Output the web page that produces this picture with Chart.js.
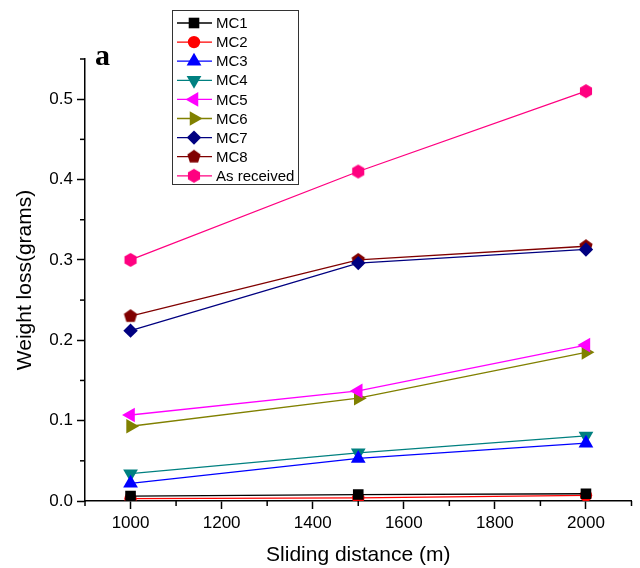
<!DOCTYPE html>
<html>
<head>
<meta charset="utf-8">
<script src="https://cdn.jsdelivr.net/npm/chart.js@4.4.1/dist/chart.umd.min.js"></script>
<style>
html,body{margin:0;padding:0;background:#fff;}
#wrap{width:640px;height:568px;position:relative;}
</style>
</head>
<body>
<div id="wrap"><canvas id="c" width="640" height="568"></canvas></div>
<script>
// ---- data ----
const distances = [1000, 1500, 2000];
const seriesNames = ["MC1","MC2","MC3","MC4","MC5","MC6","MC7","MC8","As received"];
const mc1 = [0.006, 0.008, 0.009];
const mc2 = [0.003, 0.004, 0.007];
const mc3 = [0.022, 0.053, 0.072];
const mc4 = [0.034, 0.060, 0.081];
const mc5 = [0.107, 0.137, 0.194];
const mc6 = [0.093, 0.128, 0.185];
const mc7 = [0.212, 0.296, 0.313];
const mc8 = [0.230, 0.300, 0.317];
const asReceived = [0.300, 0.410, 0.510];
const xTicks = [1000, 1200, 1400, 1600, 1800, 2000];
const xMinorTicks = [900, 1100, 1300, 1500, 1700, 1900, 2100];
const yTicks = [0.0, 0.1, 0.2, 0.3, 0.4, 0.5];
const yMinorTicks = [0.05, 0.15, 0.25, 0.35, 0.45, 0.55];

// ---- custom marker images (pentagon / hexagon) ----
function polyImage(sides, r, color, rot) {
  const s = Math.ceil(r * 2 + 2);
  const cv = document.createElement('canvas');
  cv.width = s; cv.height = s;
  const g = cv.getContext('2d');
  g.fillStyle = color;
  g.beginPath();
  for (let i = 0; i < sides; i++) {
    const a = rot + i * 2 * Math.PI / sides;
    const px = s / 2 + r * Math.cos(a), py = s / 2 + r * Math.sin(a);
    if (i === 0) g.moveTo(px, py); else g.lineTo(px, py);
  }
  g.closePath();
  g.fill();
  return cv;
}
const pentagon = polyImage(5, 7, '#800000', -Math.PI / 2);
const hexagon = polyImage(6, 7, '#FF0080', -Math.PI / 2);

const styles = [
  {color:'#000000', pointStyle:'rect', rotation:0, radius:7.5},
  {color:'#FF0000', pointStyle:'circle', rotation:0, radius:6.2},
  {color:'#0000FF', pointStyle:'triangle', rotation:0, radius:8.5},
  {color:'#008080', pointStyle:'triangle', rotation:180, radius:8.5},
  {color:'#FF00FF', pointStyle:'triangle', rotation:-90, radius:8.5},
  {color:'#808000', pointStyle:'triangle', rotation:90, radius:8.5},
  {color:'#000080', pointStyle:'rectRot', rotation:0, radius:7.2},
  {color:'#800000', pointStyle:pentagon, rotation:0, radius:7},
  {color:'#FF0080', pointStyle:hexagon, rotation:0, radius:7}
];
const allValues = [mc1, mc2, mc3, mc4, mc5, mc6, mc7, mc8, asReceived];

const datasets = allValues.map((vals, i) => ({
  label: seriesNames[i],
  data: distances.map((d, j) => ({x: d, y: vals[j]})),
  borderColor: styles[i].color,
  backgroundColor: styles[i].color,
  borderWidth: 1.3,
  pointStyle: styles[i].pointStyle,
  pointRotation: styles[i].rotation,
  pointRadius: styles[i].radius,
  pointHoverRadius: styles[i].radius,
  pointBorderWidth: 0,
  pointBackgroundColor: styles[i].color,
  pointBorderColor: styles[i].color,
  tension: 0,
  fill: false
}));

// ---- plugin: minor ticks, legend box, panel label ----
const extras = {
  id: 'extras',
  afterDraw(chart) {
    const ctx = chart.ctx;
    const xs = chart.scales.x, ys = chart.scales.y;
    const area = chart.chartArea;
    ctx.save();
    ctx.strokeStyle = '#000';
    ctx.lineWidth = 1.5;
    // minor ticks
    xMinorTicks.forEach(v => {
      const px = xs.getPixelForValue(v);
      ctx.beginPath(); ctx.moveTo(px, area.bottom); ctx.lineTo(px, area.bottom + 5); ctx.stroke();
    });
    yMinorTicks.forEach(v => {
      const py = ys.getPixelForValue(v);
      ctx.beginPath(); ctx.moveTo(area.left, py); ctx.lineTo(area.left - 5, py); ctx.stroke();
    });
    // legend
    const lx = 172, ly = 10, lw = 126, lh = 174;
    ctx.fillStyle = '#fff';
    ctx.fillRect(lx, ly, lw, lh);
    ctx.strokeStyle = '#333';
    ctx.lineWidth = 1;
    ctx.strokeRect(lx + 0.5, ly + 0.5, lw, lh);
    ctx.font = '15px "Liberation Sans", Arial, sans-serif';
    ctx.textBaseline = 'middle';
    ctx.textAlign = 'left';
    chart.data.datasets.forEach((ds, i) => {
      const cy = ly + 13 + i * 19.1;
      ctx.strokeStyle = ds.borderColor;
      ctx.lineWidth = 1.3;
      ctx.beginPath(); ctx.moveTo(lx + 5, cy); ctx.lineTo(lx + 40, cy); ctx.stroke();
      ctx.fillStyle = ds.pointBackgroundColor;
      Chart.helpers.drawPoint(ctx, {
        pointStyle: ds.pointStyle, rotation: ds.pointRotation,
        radius: ds.pointRadius, borderWidth: 0
      }, lx + 22, cy);
      ctx.fillStyle = '#000';
      ctx.fillText(ds.label, lx + 44, cy + 1);
    });
    // panel label
    ctx.fillStyle = '#000';
    ctx.font = 'bold 30px "Liberation Serif", "Times New Roman", serif';
    ctx.textBaseline = 'alphabetic';
    ctx.fillText('a', 95, 65);
    ctx.restore();
  }
};

new Chart(document.getElementById('c'), {
  type: 'line',
  data: { datasets },
  plugins: [extras],
  options: {
    responsive: false,
    animation: false,
    events: [],
    layout: { padding: { top: 59, right: 7, left: 0, bottom: 0 } },
    plugins: { legend: { display: false }, tooltip: { enabled: false } },
    scales: {
      x: {
        type: 'linear',
        min: 900, max: 2100,
        afterFit(s) { s.height = 67; },
        afterBuildTicks(s) { s.ticks = xTicks.map(v => ({value: v})); },
        border: { display: true, color: '#000', width: 1.5 },
        grid: { drawOnChartArea: false, drawTicks: true, tickLength: 8, tickColor: '#000', tickWidth: 1.5 },
        ticks: {
          color: '#000', padding: 4, maxRotation: 0, autoSkip: false,
          font: { family: '"Liberation Sans", Arial, sans-serif', size: 17 },
          callback: v => String(v)
        },
        title: {
          display: true, text: 'Sliding distance (m)', color: '#000',
          font: { family: '"Liberation Sans", Arial, sans-serif', size: 21 },
          padding: { top: 0, bottom: 0 }
        }
      },
      y: {
        type: 'linear',
        min: 0, max: 0.55,
        afterFit(s) { s.width = 85; },
        afterBuildTicks(s) { s.ticks = yTicks.map(v => ({value: v})); },
        border: { display: true, color: '#000', width: 1.5 },
        grid: { drawOnChartArea: false, drawTicks: true, tickLength: 8, tickColor: '#000', tickWidth: 1.5 },
        ticks: {
          color: '#000', padding: 4, autoSkip: false,
          font: { family: '"Liberation Sans", Arial, sans-serif', size: 17 },
          callback: v => Number(v).toFixed(1)
        },
        title: {
          display: true, text: 'Weight loss(grams)', color: '#000',
          font: { family: '"Liberation Sans", Arial, sans-serif', size: 21 },
          padding: { top: 13, bottom: 0 }
        }
      }
    }
  }
});
</script>
</body>
</html>
